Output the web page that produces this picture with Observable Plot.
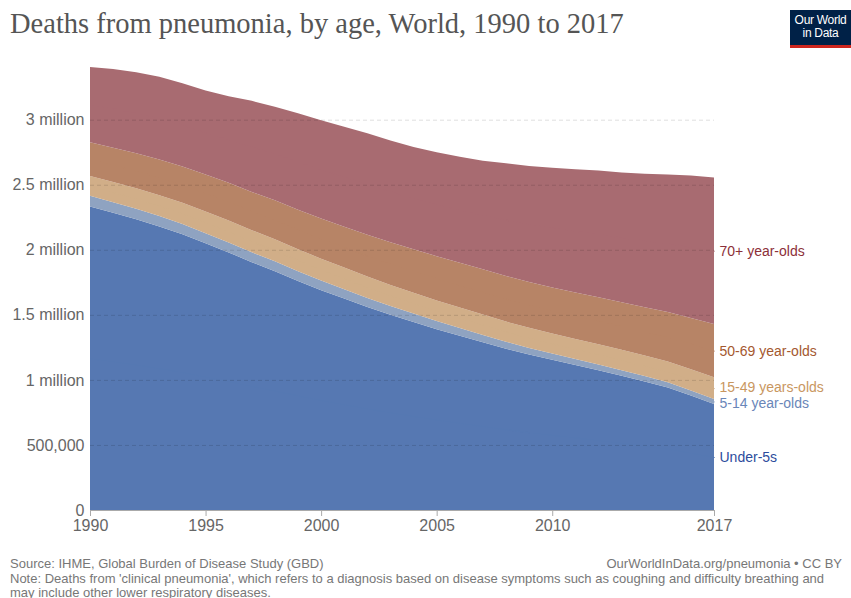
<!DOCTYPE html>
<html>
<head>
<meta charset="utf-8">
<script src="https://cdn.jsdelivr.net/npm/d3@7"></script>
<script src="https://cdn.jsdelivr.net/npm/@observablehq/plot@0.6"></script>
<style>
  body { margin:0; background:#fff; width:851px; height:598px; overflow:hidden; position:relative; font-family:"Liberation Sans", Arial, sans-serif; }
  #title { position:absolute; left:10px; top:8px; font-family:"Liberation Serif", "DejaVu Serif", serif; font-size:28.5px; color:#555; white-space:nowrap; }
  #logo { position:absolute; left:790px; top:10px; width:61px; height:38px; background:#002147; color:#fff; font-size:12px; line-height:13px; text-align:center; box-sizing:border-box; padding-top:4px; letter-spacing:-0.3px; }
  #logo::after { content:""; position:absolute; left:0; right:0; bottom:0; height:3px; background:#ce261e; }
  #chart { position:absolute; left:0; top:50px; }
  #foot { position:absolute; left:10px; top:557px; width:832px; font-size:13px; line-height:14.5px; color:#777; }
  #foot .right { position:absolute; right:0; top:0; }
</style>
</head>
<body>
<div id="title">Deaths from pneumonia, by age, World, 1990 to 2017</div>
<div id="logo">Our World<br>in Data</div>
<div id="chart"></div>
<div id="foot">
  <div>Source: IHME, Global Burden of Disease Study (GBD)</div>
  <div class="right">OurWorldInData.org/pneumonia • CC BY</div>
  <div>Note: Deaths from 'clinical pneumonia', which refers to a diagnosis based on disease symptoms such as coughing and difficulty breathing and may include other lower respiratory diseases.</div>
</div>
<script>
const years = [1990,1991,1992,1993,1994,1995,1996,1997,1998,1999,2000,2001,2002,2003,2004,2005,2006,2007,2008,2009,2010,2011,2012,2013,2014,2015,2016,2017];
const under5   = [2333000,2285000,2235000,2180000,2120000,2050000,1980000,1905000,1835000,1760000,1690000,1625000,1560000,1500000,1445000,1390000,1340000,1290000,1240000,1195000,1155000,1115000,1075000,1032000,988000,942000,880000,815000];
const age5_14  = [82000,81000,80000,79000,78000,77000,77000,76000,76000,75000,74000,72000,70000,68000,65000,62000,59000,56000,53000,50000,47000,45000,43000,42000,41000,40000,39000,39000];
const age15_49 = [152000,155000,158000,161000,164000,167000,169000,170000,170000,169000,168000,166000,164000,162000,160000,158000,157000,156000,155000,155000,155000,155000,156000,157000,158000,160000,163000,166000];
const age50_69 = [259000,264000,269000,274000,279000,284000,289000,294000,299000,304000,309000,315000,321000,328000,335000,341000,345000,348000,350000,352000,354000,357000,361000,366000,372000,380000,393000,410000];
const age70    = [579000,605000,623000,636000,639000,647000,665000,700000,720000,742000,754000,767000,780000,782000,785000,799000,814000,835000,867000,893000,919000,948000,975000,998000,1026000,1056000,1097000,1126000];

const seriesNames = ["Under-5s","5-14 year-olds","15-49 years-olds","50-69 year-olds","70+ year-olds"];
const seriesValues = [under5, age5_14, age15_49, age50_69, age70];
const fillColors = ["#5678b2","#8fa3c1","#d1ae88","#b78466","#a86b71"];
const labelColors = ["#2c4c9c","#6a86b8","#c9975f","#a4582f","#8c3039"];
const yTicks = [0,500000,1000000,1500000,2000000,2500000,3000000];
const yTickLabels = ["0","500,000","1 million","1.5 million","2 million","2.5 million","3 million"];
const xTicks = [1990,1995,2000,2005,2010,2017];

const rows = [];
seriesNames.forEach((name, i) => years.forEach((yr, j) => rows.push({year: yr, age: name, value: seriesValues[i][j]})));

const totals = years.map((_, j) => seriesValues.reduce((s, arr) => s + arr[j], 0));
const yMax = d3.max(totals);

const W = 851, H = 490, mT = 17, mB = 30, mL = 90, mR = 137;

// label positions at the last year: band midpoints, separated to avoid overlap
const last = years.length - 1;
let cum = 0;
const labels = seriesNames.map((name, i) => {
  const v = seriesValues[i][last];
  const mid = cum + v / 2;
  cum += v;
  return {age: name, year: years[last], y: mid, color: labelColors[i]};
});
const minGap = 16 * yMax / (H - mT - mB);
for (let it = 0; it < 50; it++) {
  for (let k = 0; k < labels.length - 1; k++) {
    const a = labels[k], b = labels[k + 1];
    const gap = b.y - a.y;
    if (gap < minGap) {
      const push = (minGap - gap) / 2;
      a.y -= push; b.y += push;
    }
  }
}

const chart = Plot.plot({
  width: W, height: H,
  marginTop: mT, marginBottom: mB, marginLeft: mL, marginRight: mR,
  style: {fontFamily: "Liberation Sans, Arial, sans-serif", background: "#fff", overflow: "visible"},
  x: {domain: [years[0], years[last]]},
  y: {domain: [0, yMax]},
  color: {domain: seriesNames, range: fillColors},
  marks: [
    Plot.areaY(rows, {x: "year", y: "value", fill: "age", order: seriesNames, curve: "linear"}),
    Plot.lineY(rows, Plot.stackY({x: "year", y: "value", z: "age", order: seriesNames, stroke: "age", curve: "linear", strokeWidth: 0.8})),
    Plot.gridY(yTicks.filter(d => d > 0), {stroke: "#000", strokeOpacity: 0.13, strokeDasharray: "4,3", strokeWidth: 1}),
    Plot.ruleY([0], {stroke: "#aaa"}),
    Plot.axisY(yTicks, {tickFormat: d => yTickLabels[yTicks.indexOf(d)], tickSize: 0, tickPadding: 6, fontSize: 16, color: "#666", label: null}),
    Plot.axisX(xTicks, {tickFormat: d => String(d), tickSize: 6, tickPadding: 3, fontSize: 16, color: "#666", stroke: "#aaa", label: null}),
    Plot.text(labels, {x: "year", y: "y", text: "age", fill: "color", textAnchor: "start", dx: 5, fontSize: 14})
  ]
});
document.getElementById("chart").appendChild(chart);
</script>
</body>
</html>
